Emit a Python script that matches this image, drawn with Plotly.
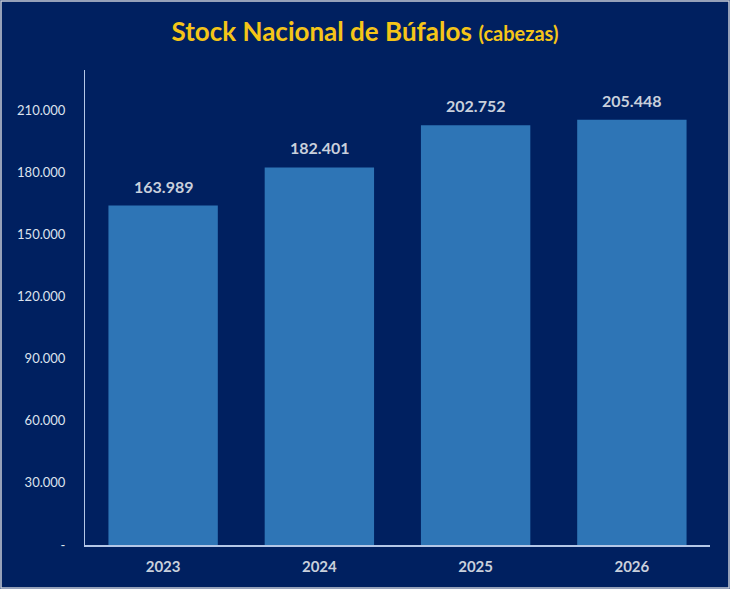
import plotly.graph_objects as go

# stock de búfalos por año (cabezas)
years = ["2023", "2024", "2025", "2026"]
heads = [163989, 182401, 202752, 205448]
labels = ["163.989", "182.401", "202.752", "205.448"]
tick_vals = [0, 30000, 60000, 90000, 120000, 150000, 180000, 210000]
tick_text = ["-", "30.000", "60.000", "90.000", "120.000", "150.000", "180.000", "210.000"]

bg = "#002060"
bar_color = "#2e75b6"
axis_color = "#b4c7e7"
font_name = "Lato"

fig = go.Figure()
fig.add_trace(go.Bar(
    x=years,
    y=heads,
    marker=dict(color=bar_color, line=dict(width=0)),
    width=0.7,
    hoverinfo="x+y",
))

# data labels above the bars (x as category index, numeric-looking strings
# would otherwise be read as an index too)
for i, (val, lab) in enumerate(zip(heads, labels)):
    fig.add_annotation(
        x=i, y=val, text=f"<b>{lab}</b>",
        showarrow=False, yanchor="bottom", yshift=8,
        font=dict(family=font_name, size=16, color="#c9d0dc"),
    )

fig.update_layout(
    width=730, height=589,
    paper_bgcolor=bg, plot_bgcolor=bg,
    separators=",.",
    showlegend=False,
    margin=dict(l=85, r=20, t=70, b=44),
    font=dict(family=font_name),
    title=dict(
        text="<b>Stock Nacional de Búfalos</b> <b><span style='font-size:20px'>(cabezas)</span></b>",
        x=0.5, xanchor="center", xref="container",
        y=0.945, yanchor="middle", yref="container",
        font=dict(family=font_name, size=26, color="#f5c518"),
    ),
)

fig.update_xaxes(
    type="category",
    range=[-0.5, len(years) - 0.5],
    showline=True, linecolor=axis_color, linewidth=2,
    showgrid=False, ticks="",
    ticklabelstandoff=7,
    tickfont=dict(family=font_name, size=15, color="#c9d0dc", weight="bold"),
)
fig.update_yaxes(
    range=[0, 229500],
    tickvals=tick_vals, ticktext=tick_text,
    showline=True, linecolor=axis_color, linewidth=1,
    showgrid=False, zeroline=False, ticks="",
    ticklabelstandoff=16,
    tickfont=dict(family=font_name, size=13, color="#dde3ee"),
)

# thin frame around the whole chart
fig.add_shape(type="rect", xref="paper", yref="paper",
              x0=-84/625, x1=1 + 19/625, y0=-43/475, y1=1 + 69/475,
              line=dict(color="#c8ccd6", width=1.5), fillcolor="rgba(0,0,0,0)")

fig.write_html("out.html", config={"displayModeBar": False},
               post_script="document.body.style.margin='0';")
